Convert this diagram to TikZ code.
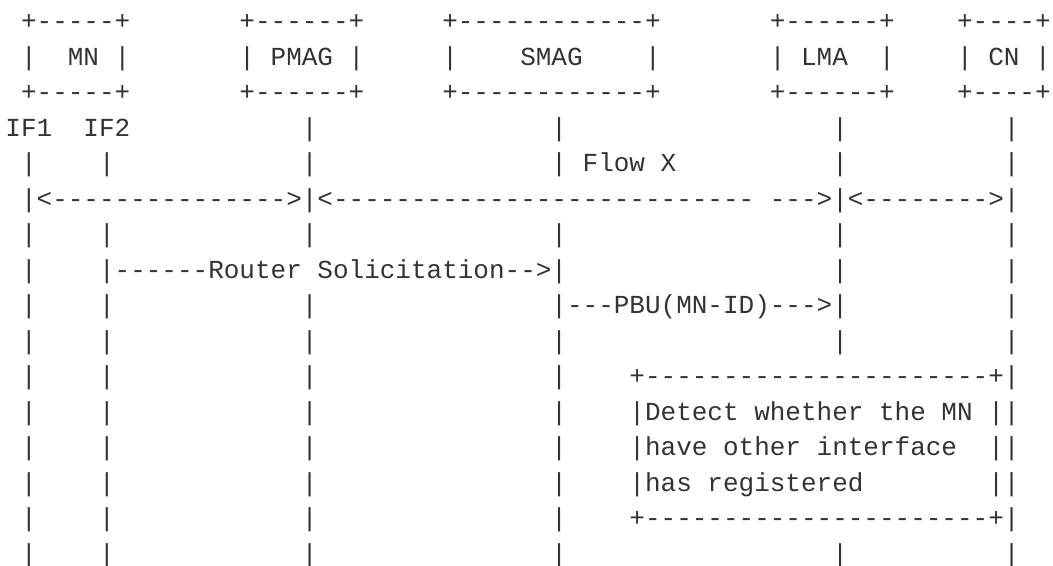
\documentclass[tikz,border=0pt]{standalone}
\usepackage{fontspec}
\setmonofont{Liberation Mono}
\usetikzlibrary{positioning}

\begin{document}
\begin{tikzpicture}[x=11.7pt, y=-26.625pt,
    ascii/.style={font=\ttfamily\fontsize{19.5pt}{26.6pt}\selectfont, text=black!80, inner sep=0pt, anchor=base west}]
                \useasboundingbox (-0.333,0.169) rectangle (67.167,16.085);
                % entity boxes
                \node[ascii] (mnTop) at (1,1) {+-----+};
                \node[ascii] (mn) at (1,2) {|~~MN~|};
                \node[ascii] (mnBot) at (1,3) {+-----+};
                \node[ascii] (pmagTop) at (15,1) {+------+};
                \node[ascii] (pmag) at (15,2) {|~PMAG~|};
                \node[ascii] (pmagBot) at (15,3) {+------+};
                \node[ascii] (smagTop) at (28,1) {+------------+};
                \node[ascii] (smag) at (28,2) {|~~~~SMAG~~~~|};
                \node[ascii] (smagBot) at (28,3) {+------------+};
                \node[ascii] (lmaTop) at (49,1) {+------+};
                \node[ascii] (lma) at (49,2) {|~LMA~~|};
                \node[ascii] (lmaBot) at (49,3) {+------+};
                \node[ascii] (cnTop) at (61,1) {+----+};
                \node[ascii] (cn) at (61,2) {|~CN~|};
                \node[ascii] (cnBot) at (61,3) {+----+};
                \node[ascii] (if1) at (0,4) {IF1};
                \node[ascii] (if2) at (5,4) {IF2};

                % lifelines
                \foreach \r in {5,...,16}
                    \node[ascii] (lif1-\r) at (1,\r) {|};
                \foreach \r in {5,7,8,9,10,11,12,13,14,15,16}
                    \node[ascii] (lif2-\r) at (6,\r) {|};
                \foreach \r in {4,5,6,7,9,10,11,12,13,14,15,16}
                    \node[ascii] (lpmag-\r) at (19,\r) {|};
                \foreach \r in {4,5,7,8,9,10,11,12,13,14,15,16}
                    \node[ascii] (lsmag-\r) at (35,\r) {|};
                \foreach \r in {4,...,10,16}
                    \node[ascii] (llma-\r) at (53,\r) {|};
                \foreach \r in {4,...,16}
                    \node[ascii] (lcn-\r) at (64,\r) {|};

                % messages
                \node[ascii] (flow) at (37,5) {Flow X};
                \node[ascii] (flowA) at (2,6) {<--------------->};
                \node[ascii] (flowB) at (20,6) {<---------------------------~--->};
                \node[ascii] (flowC) at (54,6) {<-------->};
                \node[ascii] (rs) at (7,8) {------Router Solicitation-->};
                \node[ascii] (pbu) at (36,9) {---PBU(MN-ID)--->};

                % detection box
                \node[ascii] (detTop) at (40,11) {+----------------------+};
                \node[ascii] (det1) at (40,12) {|Detect whether the MN~|};
                \node[ascii] (det2) at (40,13) {|have other interface~~|};
                \node[ascii] (det3) at (40,14) {|has registered~~~~~~~~|};
                \node[ascii] (detBot) at (40,15) {+----------------------+};
            \end{tikzpicture}
\end{document}
